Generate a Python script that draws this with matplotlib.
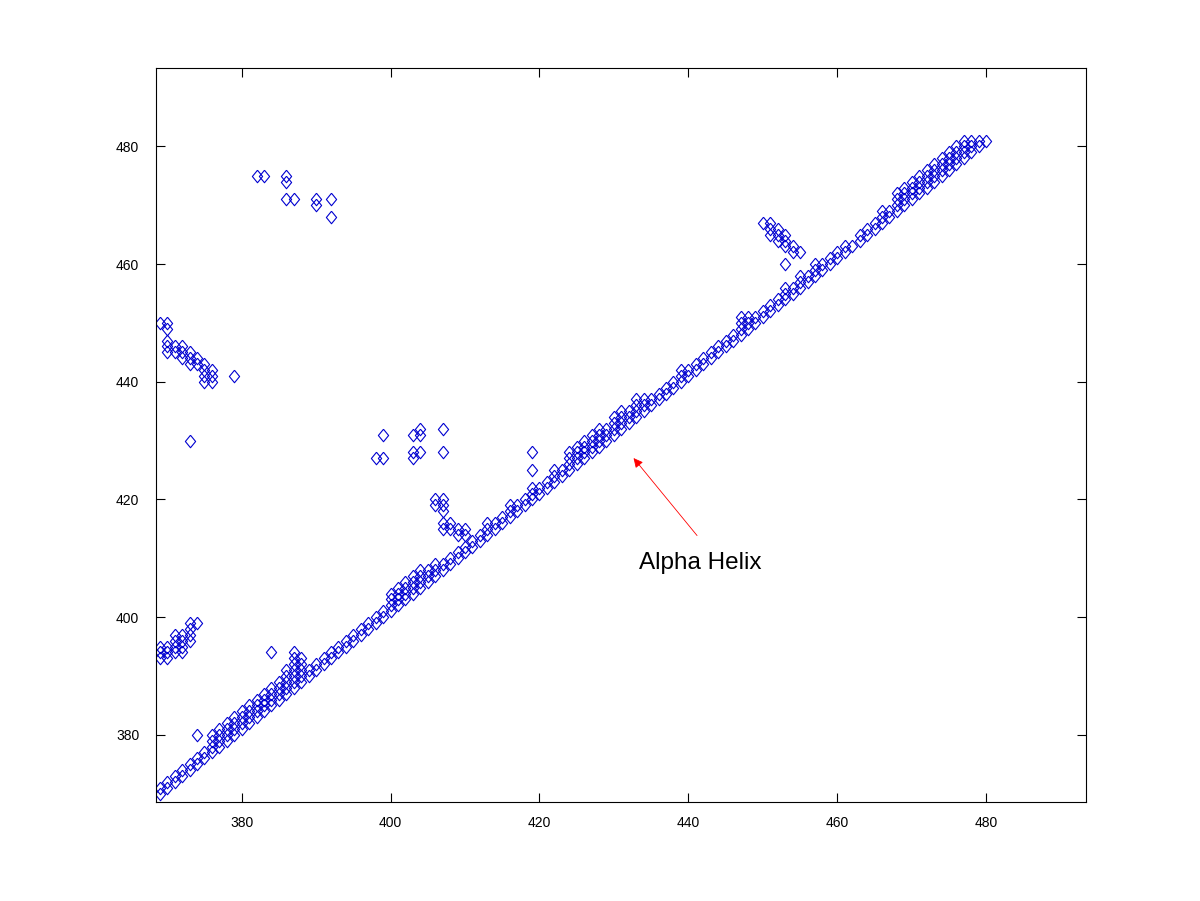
import matplotlib
matplotlib.use("Agg")
import matplotlib.pyplot as plt

# residue columns along the diagonal and the residues each one is in contact with
diag_x = list(range(369, 481))
diag_y = [
    [370, 371], [371, 372], [372, 373], [373, 374], [374, 375], [375, 376], [376, 377],
    [377, 378, 379, 380], [378, 379, 380, 381], [379, 380, 381, 382], [380, 381, 382, 383],
    [381, 382, 383, 384], [382, 383, 384, 385], [383, 384, 385, 386], [384, 385, 386, 387],
    [385, 386, 387, 388], [386, 387, 388, 389], [387, 388, 389, 390, 391],
    [388, 389, 390, 391, 392, 393, 394], [389, 390, 391, 392, 393],
    [390, 391], [391, 392], [392, 393], [393, 394], [394, 395], [395, 396], [396, 397],
    [397, 398], [398, 399], [399, 400], [400, 401],
    [401, 402, 403, 404], [402, 403, 404, 405], [403, 404, 405, 406], [404, 405, 406, 407],
    [405, 406, 407, 408], [406, 407, 408], [407, 408, 409], [408, 409], [409, 410],
    [410, 411], [411, 412], [412, 413], [413, 414], [414, 415, 416], [415, 416], [416, 417],
    [417, 418, 419], [418, 419], [419, 420], [420, 421, 422], [421, 422], [422, 423],
    [423, 424, 425], [424, 425],
    [425, 426, 427, 428], [426, 427, 428, 429], [427, 428, 429, 430], [428, 429, 430, 431],
    [429, 430, 431, 432], [430, 431, 432], [431, 432, 433, 434], [432, 433, 434, 435],
    [433, 434, 435], [434, 435, 436, 437], [435, 436, 437], [436, 437], [437, 438],
    [438, 439], [439, 440], [440, 441, 442], [441, 442], [442, 443], [443, 444], [444, 445],
    [445, 446], [446, 447], [447, 448], [448, 449, 450, 451], [449, 450, 451], [450, 451],
    [451, 452], [452, 453], [453, 454], [454, 455, 456], [455, 456], [456, 457, 458],
    [457, 458], [458, 459, 460], [459, 460], [460, 461], [461, 462], [462, 463], [463],
    [464, 465], [465, 466], [466, 467], [467, 468, 469], [468, 469],
    [469, 470, 471, 472], [470, 471, 472, 473], [471, 472, 473, 474], [472, 473, 474, 475],
    [473, 474, 475, 476], [474, 475, 476, 477], [475, 476, 477, 478], [476, 477, 478, 479],
    [477, 478, 479, 480], [478, 479, 480, 481], [479, 480, 481], [480, 481], [481],
]

# off-diagonal contacts
top_x = [382, 383, 386, 386, 386, 387, 390, 390, 392, 392]
top_y = [475, 475, 475, 474, 471, 471, 471, 470, 471, 468]

upper_left_x = [369, 370, 370, 370, 370, 370, 371, 371, 372, 372, 372, 373, 373, 373,
                374, 374, 375, 375, 375, 375, 376, 376, 376, 379, 373]
upper_left_y = [450, 450, 449, 447, 446, 445, 446, 445, 446, 445, 444, 445, 444, 443,
                444, 443, 443, 442, 441, 440, 442, 441, 440, 441, 430]

lower_left_x = [369, 369, 369, 370, 370, 370, 371, 371, 371, 371, 372, 372, 372, 372,
                373, 373, 373, 373, 374, 374, 384]
lower_left_y = [395, 394, 393, 395, 394, 393, 397, 396, 395, 394, 397, 396, 395, 394,
                399, 398, 397, 396, 399, 380, 394]

middle_x = [398, 399, 399, 403, 403, 403, 404, 404, 404, 407, 407,
            406, 406, 407, 407, 407, 407, 407, 408, 408, 409, 409, 410, 410, 419, 419]
middle_y = [427, 427, 431, 431, 428, 427, 432, 431, 428, 432, 428,
            420, 419, 420, 419, 418, 416, 415, 416, 415, 415, 414, 415, 414, 428, 425]

branch_x = [450, 451, 451, 451, 452, 452, 452, 453, 453, 453, 453, 454, 454, 455]
branch_y = [467, 467, 466, 465, 466, 465, 464, 465, 464, 463, 460, 463, 462, 462]

xs, ys = [], []
for x, col in zip(diag_x, diag_y):
    xs += [x] * len(col)
    ys += col
for px, py in [(top_x, top_y), (upper_left_x, upper_left_y), (lower_left_x, lower_left_y),
               (middle_x, middle_y), (branch_x, branch_y)]:
    xs += px
    ys += py

# matlab style diamond (a bit taller than wide)
diamond = [(0, 1), (0.82, 0), (0, -1), (-0.82, 0), (0, 1)]

plt.rcParams['font.family'] = ['Liberation Sans', 'DejaVu Sans']

fig = plt.figure(figsize=(12, 9.01), dpi=100)
ax = fig.add_axes([0.13, 0.11, 0.775, 0.815])

ax.plot(xs, ys, linestyle='none', marker=diamond, markersize=9,
        markerfacecolor='none', markeredgecolor='#0000d0', markeredgewidth=0.8)

ax.set_xlim(368.5, 493.4)
ax.set_ylim(368.6, 493.4)
ax.set_xticks([380, 400, 420, 440, 460, 480])
ax.set_yticks([380, 400, 420, 440, 460, 480])
ax.tick_params(direction='in', length=6.5, width=0.8, top=True, right=True,
               labelsize=10, colors='black')
ax.tick_params(axis='x', pad=10)
ax.tick_params(axis='y', pad=12)
for s in ax.spines.values():
    s.set_linewidth(0.8)

ax.annotate('', xy=(432.4, 427.4), xytext=(441.4, 413.5),
            arrowprops=dict(arrowstyle='-|>', color='red', lw=0.6, mutation_scale=14))
ax.text(433.4, 408.2, 'Alpha Helix', fontsize=17.5, va='baseline', ha='left')

fig.savefig('out.png', dpi=100)
